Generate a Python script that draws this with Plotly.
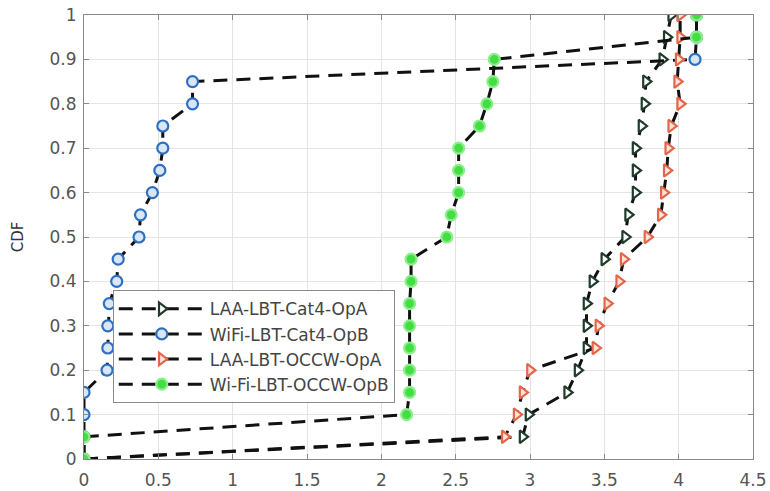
import plotly.graph_objects as go

cdf = [0, 0.05, 0.1, 0.15, 0.2, 0.25, 0.3, 0.35, 0.4, 0.45, 0.5,
       0.55, 0.6, 0.65, 0.7, 0.75, 0.8, 0.85, 0.9, 0.95, 1.0]

laa_cat4_opa = [0, 2.95, 2.99, 3.25, 3.32, 3.38, 3.38, 3.38, 3.42, 3.5, 3.64,
                3.66, 3.71, 3.71, 3.71, 3.75, 3.77, 3.78, 3.89, 3.92, 3.95]
wifi_cat4_opb = [0, 0, 0, 0, 0.155, 0.16, 0.16, 0.17, 0.22, 0.23, 0.37,
                 0.38, 0.46, 0.51, 0.53, 0.53, 0.73, 0.73, 4.11, 4.12, 4.12]
laa_occw_opa = [0, 2.83, 2.91, 2.95, 3.0, 3.44, 3.46, 3.52, 3.6, 3.63, 3.79,
                3.88, 3.9, 3.92, 3.93, 3.95, 4.01, 3.99, 4.0, 4.01, 4.01]
wifi_occw_opb = [0, 0, 2.17, 2.19, 2.19, 2.19, 2.19, 2.19, 2.2, 2.2, 2.44,
                 2.47, 2.52, 2.52, 2.52, 2.66, 2.71, 2.75, 2.76, 4.12, 4.12]

x_ticks = [0, 0.5, 1, 1.5, 2, 2.5, 3, 3.5, 4, 4.5]
y_ticks = [0, 0.1, 0.2, 0.3, 0.4, 0.5, 0.6, 0.7, 0.8, 0.9, 1]

names = ["LAA-LBT-Cat4-OpA", "WiFi-LBT-Cat4-OpB", "LAA-LBT-OCCW-OpA", "Wi-Fi-LBT-OCCW-OpB"]
series = [laa_cat4_opa, wifi_cat4_opb, laa_occw_opa, wifi_occw_opb]
symbols = ["triangle-right", "circle", "triangle-right", "circle"]
fills = ["#ffffff", "#d8e6f7", "#fde3da", "#44dd44"]
edges = ["#1f3b2a", "#2f6fc0", "#e2664a", "#8cef8c"]

fig = go.Figure()
for nm, xs, sym, fc, ec in zip(names, series, symbols, fills, edges):
    fig.add_trace(go.Scatter(
        x=xs, y=cdf, name=nm, mode="lines+markers",
        line=dict(color="#111111", width=3, dash="14px,9px"),
        marker=dict(symbol=sym, size=11, color=fc, line=dict(color=ec, width=2.2)),
    ))

tick_font = dict(family="DejaVu Sans, sans-serif", size=17, color="#555555")
axis_common = dict(
    showgrid=True, gridcolor="#e4e4e4", gridwidth=1,
    showline=True, linecolor="#8a8a8a", linewidth=1.2, mirror="ticks",
    ticks="inside", ticklen=5, tickcolor="#8a8a8a",
    tickfont=tick_font, zeroline=False, automargin=False,
)

fig.update_layout(
    width=770, height=491,
    margin=dict(l=84, r=17, t=15, b=32),
    paper_bgcolor="white", plot_bgcolor="white",
    xaxis=dict(range=[0, 4.5], tickvals=x_ticks, ticklabelstandoff=5, **axis_common),
    yaxis=dict(range=[0, 1], tickvals=y_ticks, ticklabelstandoff=3,
               title=dict(text="CDF", font=dict(family="DejaVu Sans, sans-serif", size=15, color="#333333"), standoff=22),
               **axis_common),
    legend=dict(x=0.043, y=0.38, xanchor="left", yanchor="top",
                bgcolor="white", bordercolor="#8a8a8a", borderwidth=1,
                font=dict(family="DejaVu Sans, sans-serif", size=17, color="#444444"),
                itemwidth=86, tracegroupgap=0),
    showlegend=True,
)

# remove the browser's default 8px body margin so the figure sits at the page origin
fig.write_html("out.html", config={"displayModeBar": False},
               post_script="document.body.style.margin='0px';")
